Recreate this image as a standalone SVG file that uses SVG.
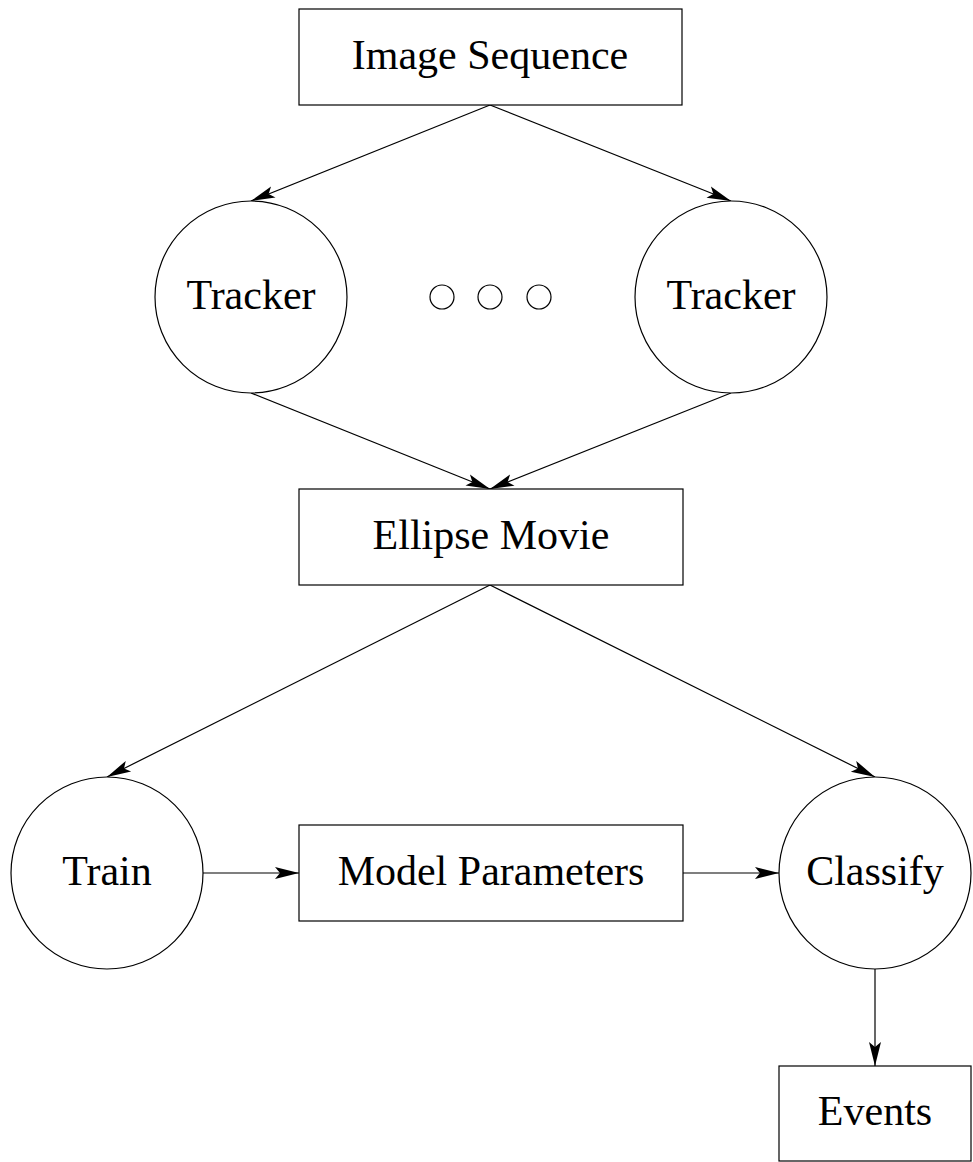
<svg xmlns="http://www.w3.org/2000/svg" width="973" height="1162" viewBox="0 0 973 1162">
<style>
.n{fill:#fff;stroke:#000;stroke-width:1.2}
text{font-family:'Liberation Serif','Times New Roman',Times,serif;font-size:42px;fill:#000;text-anchor:middle}
.c{fill:none;stroke:#000;stroke-width:1.2}
</style>
<defs>
<marker id="ah" markerUnits="userSpaceOnUse" markerWidth="30" markerHeight="16" viewBox="-27 -8 29 16" refX="0" refY="0" orient="auto">
<path d="M0,0 L-24,-6 L-19,0 L-24,6 Z" fill="#000"/>
</marker>
</defs>
<rect width="973" height="1162" fill="#fff"/>
<g id="connectors">
<line class="c" x1="490" y1="105" x2="251" y2="201" marker-end="url(#ah)"/>
<line class="c" x1="490" y1="105" x2="731" y2="201" marker-end="url(#ah)"/>
<line class="c" x1="251" y1="393" x2="490" y2="489" marker-end="url(#ah)"/>
<line class="c" x1="731" y1="393" x2="490" y2="489" marker-end="url(#ah)"/>
<line class="c" x1="490" y1="585" x2="107" y2="777" marker-end="url(#ah)"/>
<line class="c" x1="490" y1="585" x2="875" y2="777" marker-end="url(#ah)"/>
<line class="c" x1="203" y1="873" x2="299" y2="873" marker-end="url(#ah)"/>
<line class="c" x1="683" y1="873" x2="779" y2="873" marker-end="url(#ah)"/>
<line class="c" x1="875" y1="969" x2="875" y2="1066" marker-end="url(#ah)"/>
</g>
<g id="image-sequence"><rect class="n" x="299" y="9" width="383" height="96"/><text x="490" y="69">Image Sequence</text></g>
<g id="tracker-1"><circle class="n" cx="251" cy="297" r="96"/><text x="251" y="309">Tracker</text></g>
<g id="ellipsis"><circle class="n" cx="442" cy="297" r="12"/><circle class="n" cx="490" cy="297" r="12"/><circle class="n" cx="539" cy="297" r="12"/></g>
<g id="tracker-2"><circle class="n" cx="731" cy="297" r="96"/><text x="731" y="309">Tracker</text></g>
<g id="ellipse-movie"><rect class="n" x="299" y="489" width="384" height="96"/><text x="491" y="549">Ellipse Movie</text></g>
<g id="train"><circle class="n" cx="107" cy="873" r="96"/><text x="107" y="885">Train</text></g>
<g id="model-parameters"><rect class="n" x="299" y="825" width="384" height="96"/><text x="491" y="885">Model Parameters</text></g>
<g id="classify"><circle class="n" cx="875" cy="873" r="96"/><text x="875" y="885">Classify</text></g>
<g id="events"><rect class="n" x="779" y="1066" width="192" height="95"/><text x="875" y="1125">Events</text></g>
</svg>
